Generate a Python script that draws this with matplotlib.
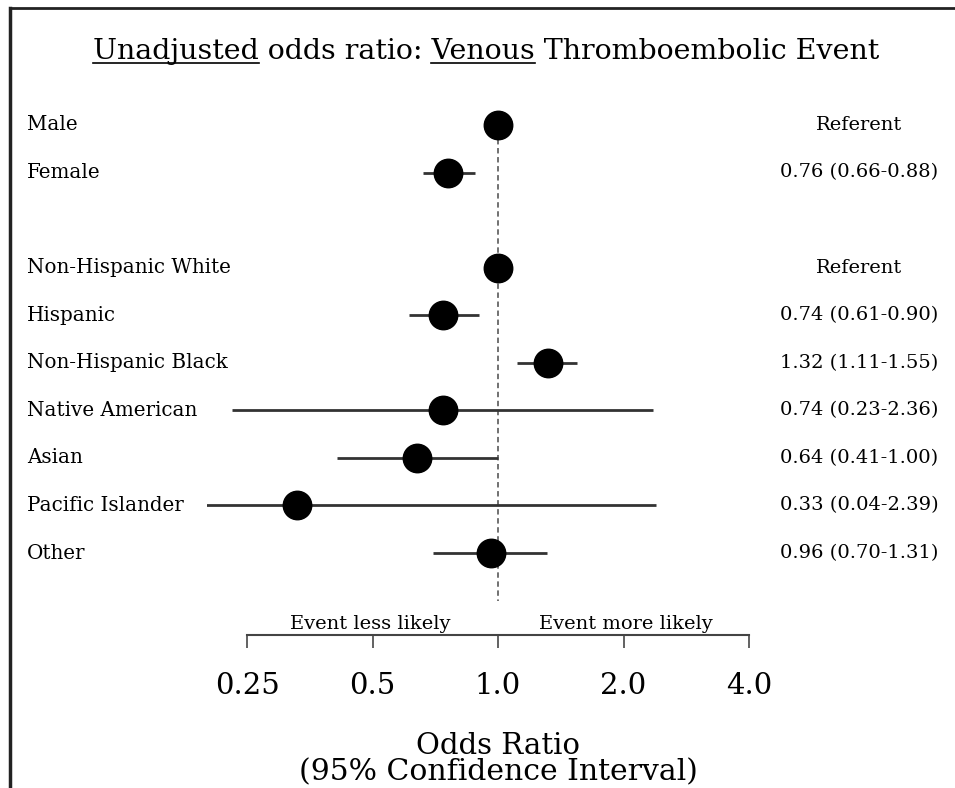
import numpy as np
import matplotlib
matplotlib.use("Agg")
from matplotlib import pyplot as plt
from matplotlib.lines import Line2D

plt.rcParams['font.family'] = ['DejaVu Serif']

# data
labels = ["Male", "Female", "Non-Hispanic White", "Hispanic", "Non-Hispanic Black",
          "Native American", "Asian", "Pacific Islander", "Other"]
group = [0, 0, 1, 1, 1, 1, 1, 1, 1]
odds = [1.00, 0.76, 1.00, 0.74, 1.32, 0.74, 0.64, 0.33, 0.96]
ci_lo = [np.nan, 0.66, np.nan, 0.61, 1.11, 0.23, 0.41, 0.04, 0.70]
ci_hi = [np.nan, 0.88, np.nan, 0.90, 1.55, 2.36, 1.00, 2.39, 1.31]
ticks = [0.25, 0.5, 1.0, 2.0, 4.0]
tick_labels = ["0.25", "0.5", "1.0", "2.0", "4.0"]

W, H = 955, 788
fig = plt.figure(figsize=(W / 100, H / 100), dpi=100)

# axes in pixel terms: x 207..760, y 100..635 (from top)
x0, x1, ytop, ybot = 207, 760, 100, 635
ax = fig.add_axes([x0 / W, 1 - ybot / H, (x1 - x0) / W, (ybot - ytop) / H])
px_per_oct = 125.5
ax.set_xscale('log', base=2)
ax.set_xlim(2 ** ((x0 - 498) / px_per_oct), 2 ** ((x1 - 498) / px_per_oct))
row_px = 47.56
ax.set_ylim((ybot - 125) / row_px, -(125 - ytop) / row_px)

ypos = np.arange(len(labels)) + np.array(group)

for y, o, lo, hi in zip(ypos, odds, ci_lo, ci_hi):
    if not np.isnan(lo):
        ax.plot([lo, hi], [y, y], color='#333333', lw=2.0, solid_capstyle='butt', zorder=2)
    ax.plot(o, y, 'o', color='black', ms=20.5, zorder=3)

ax.plot([1, 1], [0.3, 10.0], color='#666666', lw=1.3, ls=(0, (3, 2)), zorder=1)

for s in ['top', 'right', 'left']:
    ax.spines[s].set_visible(False)
ax.spines['bottom'].set_bounds(0.25, 4.0)
ax.spines['bottom'].set_color('#444444')
ax.spines['bottom'].set_linewidth(1.5)
ax.set_yticks([])
ax.set_xticks(ticks)
ax.set_xticklabels(tick_labels, fontsize=21)
ax.minorticks_off()
ax.tick_params(axis='x', direction='out', length=9, width=1.3, color='#555555', pad=18)

ax.text(0.493, 0.012, "Event less likely", transform=ax.get_xaxis_transform(),
        ha='center', va='baseline', fontsize=14)
ax.text(2.03, 0.012, "Event more likely", transform=ax.get_xaxis_transform(),
        ha='center', va='baseline', fontsize=14)

# row labels and estimates
for y, lab, o, lo, hi in zip(ypos, labels, odds, ci_lo, ci_hi):
    yfig = 1 - (125 + y * row_px) / H
    fig.text(27 / W, yfig, lab, ha='left', va='center', fontsize=14.3)
    txt = "Referent" if np.isnan(lo) else f"{o:.2f} ({lo:.2f}-{hi:.2f})"
    fig.text(859 / W, yfig, txt, ha='center', va='center', fontsize=14)

fig.text(498 / W, 1 - 746 / H, "Odds Ratio", ha='center', va='center', fontsize=21)
fig.text(498 / W, 1 - 772 / H, "(95% Confidence Interval)", ha='center', va='center', fontsize=21.5)

# title with underlined words
title = "Unadjusted odds ratio: Venous Thromboembolic Event"
tsize = 20.5
tx, ty = 486 / W, 1 - 59 / H
t = fig.text(tx, ty, title, ha='center', va='baseline', fontsize=tsize)
renderer = fig.canvas.get_renderer()
bb = t.get_window_extent(renderer)


def width_of(s):
    tmp = fig.text(0, 0, s, fontsize=tsize)
    w = tmp.get_window_extent(renderer).width
    tmp.remove()
    return w


uy = 1 - 63 / H
for word in ["Unadjusted", "Venous"]:
    i = title.index(word)
    end = bb.x0 + width_of(title[:i + len(word)])
    start = end - width_of(word)
    fig.add_artist(Line2D([start / W, end / W], [uy, uy], color='black', lw=1.2))

# frame (top and left only)
fig.add_artist(Line2D([10 / W, 1], [1 - 8 / H, 1 - 8 / H], color='#222222', lw=2))
fig.add_artist(Line2D([10 / W, 10 / W], [0, 1 - 8 / H], color='#222222', lw=2.5))

fig.savefig("out.png", dpi=100)
